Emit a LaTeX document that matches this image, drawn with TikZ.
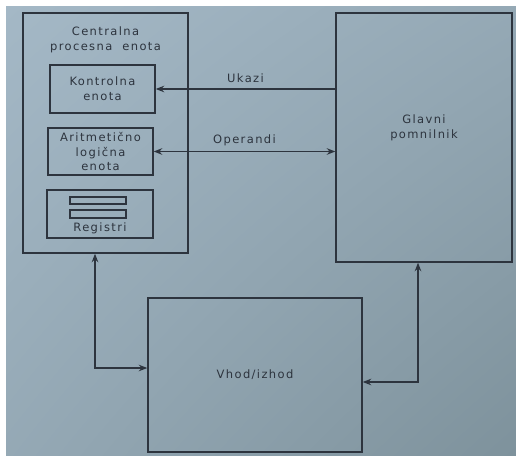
\documentclass[tikz,border=0pt]{standalone}
\usepackage{fontspec}
\setmainfont{DejaVu Sans}[LetterSpace=12]
\usepackage{xcolor}
\usetikzlibrary{arrows.meta,calc,positioning,shadings}
\definecolor{bgA}{RGB}{164,184,198}
\definecolor{bgB}{RGB}{126,146,156}
\definecolor{ink}{RGB}{45,52,62}
\begin{document}
\begin{tikzpicture}[x=1pt,y=-1pt,font=\fontsize{11.5}{15}\selectfont,>={Stealth[length=8.5pt,width=6.5pt]},
  box/.style={draw=ink,line width=1.4pt,inner sep=0pt,text=ink,align=center},
  link/.style={draw=ink,line width=1.4pt}]
\useasboundingbox (0,0) rectangle (516,455);
\fill[white] (0,0) rectangle (516,455);
\shade[upper left=bgA,lower right=bgB,upper right=bgA!60!bgB,lower left=bgA!60!bgB] (6,6) rectangle (516,455);
% central processing unit
\node[box,minimum width=165,minimum height=240] (cpu) at (105.5,133) {};
\node[text=ink,align=center] (cputitle) at (105.5,40) {Centralna\\procesna\ \ enota};
\node[box,minimum width=105,minimum height=48] (kontrolna) at (102.5,89) {Kontrolna\\enota};
\node[box,minimum width=105,minimum height=47,font=\fontsize{11.5}{14.5}\selectfont] (alu) at (100.5,151.5) {Aritmetično\\logična\\enota};
\node[box,minimum width=106,minimum height=48] (reg) at (100,214) {};
\node[box,line width=1.1pt,minimum width=56,minimum height=7] (bar1) at (98,200.5) {};
\node[box,line width=1.1pt,minimum width=56,minimum height=8] (bar2) at (98,214) {};
\node[text=ink] (regtext) at (100,228) {Registri};
% memory and io
\node[box,minimum width=176,minimum height=249] (glavni) at (424,137.5) {};
\node[text=ink,align=center] (glavnitext) at (424,128) {Glavni\\pomnilnik};
\node[box,minimum width=214,minimum height=154] (io) at (255,375) {Vhod/izhod};
% connections
\draw[link,->] (kontrolna.east -| glavni.west) -- node[above=2pt,text=ink] (ukazi) {Ukazi} (kontrolna.east);
\draw[link,<->] (alu.east) -- node[above=2pt,text=ink] (operandi) {Operandi} (alu.east -| glavni.west);
\draw[link,<->] ([xshift=-10.5pt]cpu.south) |- ([yshift=7pt]io.west);
\draw[link,<->] ([xshift=-6pt]glavni.south) |- ([yshift=-7pt]io.east);
\end{tikzpicture}
\end{document}
